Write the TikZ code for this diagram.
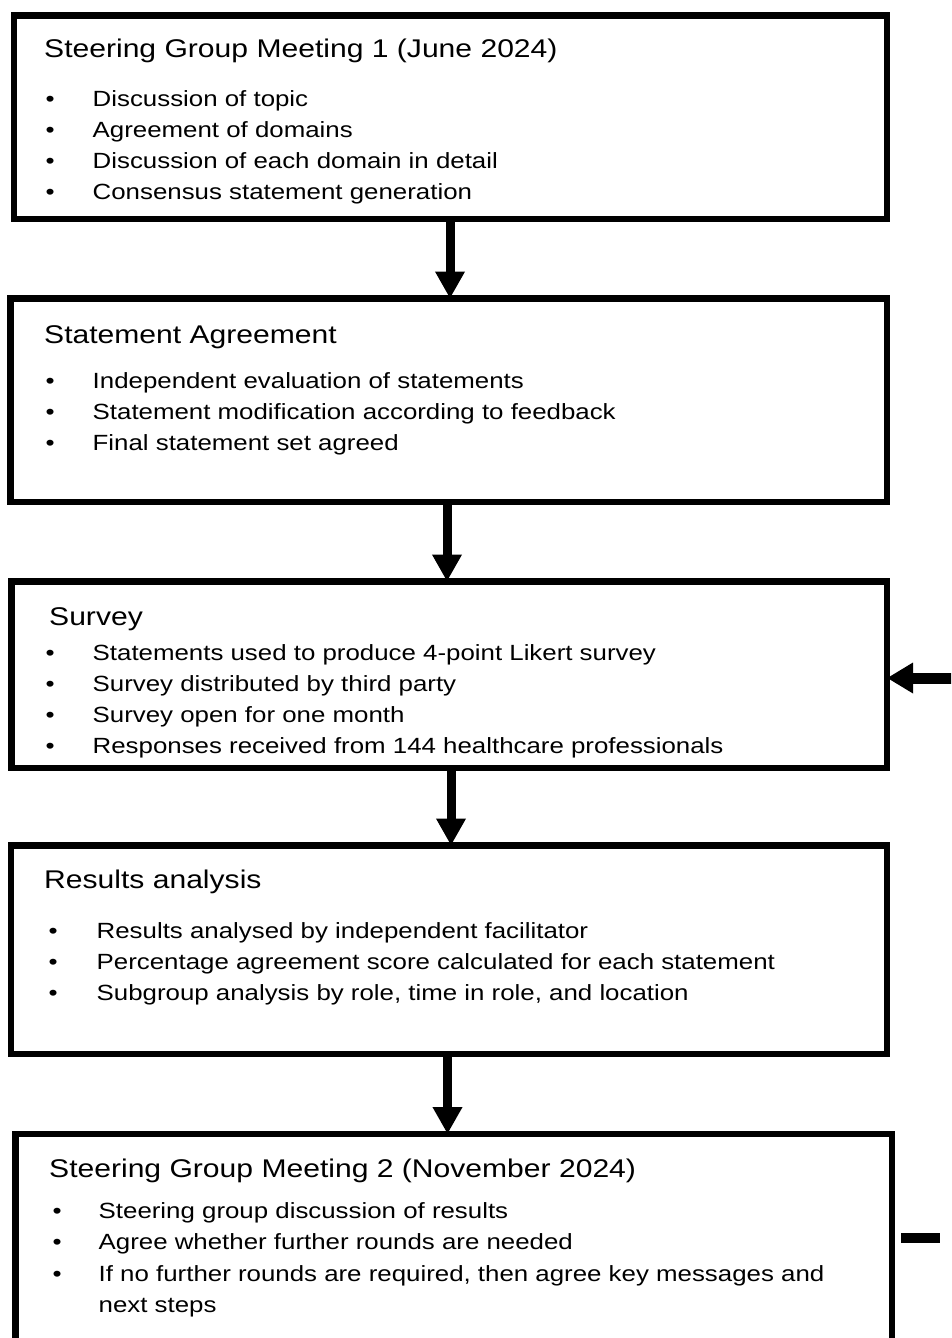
\documentclass[tikz,border=0pt]{standalone}
\usepackage{fontspec}
\setmainfont[FakeStretch=1.175]{Liberation Sans}
\usetikzlibrary{arrows.meta}
\tikzset{
  box/.style={draw, line width=6.5pt, inner sep=0pt, outer sep=0pt},
  ttl/.style={anchor=base west, inner sep=0pt, font=\fontsize{25.6}{30}\selectfont},
  itm/.style={anchor=base west, inner sep=0pt, font=\fontsize{22}{31}\selectfont},
  dot/.style={anchor=base west, inner sep=0pt, font=\fontsize{22}{31}\selectfont},
  flow/.style={line width=9pt, -{Triangle[length=27pt,width=28pt]}},
  stub/.style={line width=10pt}
}
\begin{document}
\begin{tikzpicture}[x=1pt,y=-1pt]
\useasboundingbox (0,0) rectangle (951,1338);
\clip (0,0) rectangle (951,1338);
% boxes
\node[box, minimum width=873pt, minimum height=203.5pt] (b1) at (450.5,117.25) {};
\node[box, minimum width=876.5pt, minimum height=203.5pt] (b2) at (448.75,400.25) {};
\node[box, minimum width=875.5pt, minimum height=186.5pt] (b3) at (449.25,674.75) {};
\node[box, minimum width=876pt, minimum height=208.5pt] (b4) at (449,949.75) {};
\node[box, minimum width=876.5pt, minimum height=236pt] (b5) at (453.75,1252) {};
% box 1
\node[ttl] (t1) at (44,58) {Steering Group Meeting 1 (June 2024)};
\node[dot] (d11) at (45.5,106) {•};
\node[itm] (i11) at (92.5,106) {Discussion of topic};
\node[dot] (d12) at (45.5,137) {•};
\node[itm] (i12) at (92.5,137) {Agreement of domains};
\node[dot] (d13) at (45.5,168) {•};
\node[itm] (i13) at (92.5,168) {Discussion of each domain in detail};
\node[dot] (d14) at (45.5,199) {•};
\node[itm] (i14) at (92.5,199) {Consensus statement generation};
% box 2
\node[ttl] (t2) at (44,343) {Statement Agreement};
\node[dot] (d21) at (45.5,388) {•};
\node[itm] (i21) at (92.5,388) {Independent evaluation of statements};
\node[dot] (d22) at (45.5,419) {•};
\node[itm] (i22) at (92.5,419) {Statement modification according to feedback};
\node[dot] (d23) at (45.5,450) {•};
\node[itm] (i23) at (92.5,450) {Final statement set agreed};
% box 3
\node[ttl] (t3) at (49,625) {Survey};
\node[dot] (d31) at (45.5,660) {•};
\node[itm] (i31) at (92.5,660) {Statements used to produce 4-point Likert survey};
\node[dot] (d32) at (45.5,691) {•};
\node[itm] (i32) at (92.5,691) {Survey distributed by third party};
\node[dot] (d33) at (45.5,722) {•};
\node[itm] (i33) at (92.5,722) {Survey open for one month};
\node[dot] (d34) at (45.5,753) {•};
\node[itm] (i34) at (92.5,753) {Responses received from 144 healthcare professionals};
% box 4
\node[ttl] (t4) at (44,888.5) {Results analysis};
\node[dot] (d41) at (48.5,938) {•};
\node[itm] (i41) at (96.5,938) {Results analysed by independent facilitator};
\node[dot] (d42) at (48.5,969) {•};
\node[itm] (i42) at (96.5,969) {Percentage agreement score calculated for each statement};
\node[dot] (d43) at (48.5,1000) {•};
\node[itm] (i43) at (96.5,1000) {Subgroup analysis by role, time in role, and location};
% box 5
\node[ttl] (t5) at (49,1177) {Steering Group Meeting 2 (November 2024)};
\node[dot] (d51) at (52.5,1218) {•};
\node[itm] (i51) at (98.5,1218) {Steering group discussion of results};
\node[dot] (d52) at (52.5,1249) {•};
\node[itm] (i52) at (98.5,1249) {Agree whether further rounds are needed};
\node[dot] (d53) at (52.5,1281) {•};
\node[itm] (i53) at (98.5,1281) {If no further rounds are required, then agree key messages and};
\node[itm] (i54) at (98.5,1312) {next steps};
% connectors
\draw[flow] (b1.south -| 450,0) -- (b2.north -| 450,0);
\draw[flow] (b2.south -| 447,0) -- (b3.north -| 447,0);
\draw[flow] (b3.south -| 451,0) -- (b4.north -| 451,0);
\draw[flow] (b4.south -| 447.5,0) -- (b5.north -| 447.5,0);
\coordinate (fin) at (960,678);
\draw[line width=11pt, -{Triangle[length=26pt,width=29pt]}] (fin) -- (b3.east |- fin);
\coordinate (fa) at (901,1238);
\coordinate (fb) at (940,1238);
\draw[stub] (fa) -- (fb);
\end{tikzpicture}
\end{document}
